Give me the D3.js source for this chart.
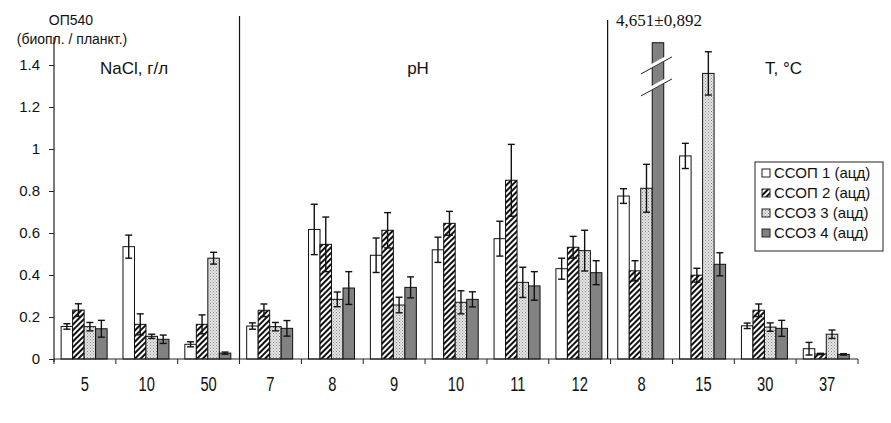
<!DOCTYPE html>
<html><head><meta charset="utf-8">
<script src="https://cdn.jsdelivr.net/npm/d3@7/dist/d3.min.js"></script>
<style>
body{margin:0;background:#fff;}
text{font-family:Arial,"Liberation Sans",sans-serif;fill:#111;}
</style></head>
<body>
<svg id="chart" width="891" height="423"></svg>
<script>
const categories = ["5","10","50","7","8","9","10","11","12","8","15","30","37"];
const seriesNames = ["ССОП 1 (ацд)","ССОП 2 (ацд)","ССОЗ 3 (ацд)","ССОЗ 4 (ацд)"];
const s1 = [0.155,0.535,0.07,0.157,0.617,0.494,0.52,0.573,0.43,0.776,0.967,0.158,0.049];
const e1 = [0.013,0.055,0.012,0.015,0.12,0.082,0.06,0.083,0.05,0.035,0.06,0.013,0.03];
const s2 = [0.233,0.165,0.165,0.232,0.546,0.613,0.646,0.851,0.532,0.42,0.399,0.232,0.024];
const e2 = [0.03,0.05,0.045,0.03,0.13,0.084,0.057,0.171,0.052,0.048,0.033,0.03,0.003];
const s3 = [0.154,0.108,0.48,0.154,0.284,0.257,0.27,0.365,0.516,0.813,1.36,0.152,0.118];
const e3 = [0.02,0.01,0.028,0.02,0.035,0.037,0.055,0.072,0.097,0.114,0.103,0.02,0.02];
const s4 = [0.144,0.094,0.028,0.146,0.338,0.341,0.284,0.348,0.411,4.651,0.451,0.146,0.022];
const e4 = [0.04,0.02,0.005,0.037,0.078,0.05,0.036,0.068,0.057,0.892,0.055,0.038,0.003];
const yTicks = [0,0.2,0.4,0.6,0.8,1,1.2,1.4];
const sections = [{label:"NaCl, г/л", start:0},{label:"pH", start:3},{label:"T, °C", start:9}];
const brokenLabel = "4,651±0,892";
const displayCap = 1.506;

const values = [s1,s2,s3,s4], errors = [e1,e2,e3,e4];
const svg = d3.select("#chart");
const defs = svg.append("defs");
const ph = defs.append("pattern").attr("id","hatch").attr("patternUnits","userSpaceOnUse")
  .attr("width",4).attr("height",4).attr("patternTransform","rotate(45)");
ph.append("rect").attr("width",4).attr("height",4).attr("fill","#fff");
ph.append("rect").attr("width",2).attr("height",4).attr("fill","#111");
const pd = defs.append("pattern").attr("id","dots").attr("patternUnits","userSpaceOnUse")
  .attr("width",3).attr("height",3);
pd.append("rect").attr("width",3).attr("height",3).attr("fill","#e6e6e6");
pd.append("rect").attr("x",0).attr("y",0).attr("width",1).attr("height",1).attr("fill","#888");
pd.append("rect").attr("x",1.5).attr("y",1.5).attr("width",1).attr("height",1).attr("fill","#999");
const fills = ["#fff","url(#hatch)","url(#dots)","#828282"];

const x0 = 54, x1 = 858, yBase = 359;
const x = d3.scaleBand().domain(d3.range(categories.length)).range([x0,x1]).paddingInner(0).paddingOuter(0);
const xs = d3.scaleBand().domain(d3.range(4)).range([0,x.bandwidth()]).paddingInner(0).paddingOuter(0.69).align(0.45);
const y = d3.scaleLinear().domain([0,1.4]).range([yBase,65]);

const g = svg.append("g");
categories.forEach((c,i)=>{
  for(let s=0;s<4;s++){
    const v = Math.min(values[s][i], displayCap);
    const bx = x(i)+xs(s);
    g.append("rect").attr("x",bx).attr("y",y(v)).attr("width",xs.bandwidth()).attr("height",y(0)-y(v))
      .attr("fill",fills[s]).attr("stroke","#111").attr("stroke-width",1);
    if(values[s][i] <= displayCap){
      const cx = bx+xs.bandwidth()/2;
      const top = y(values[s][i]+errors[s][i]), bot = y(values[s][i]-errors[s][i]);
      g.append("line").attr("x1",cx).attr("x2",cx).attr("y1",top).attr("y2",bot).attr("stroke","#111").attr("stroke-width",1.4);
      [top,bot].forEach(yy=>g.append("line").attr("x1",cx-3.5).attr("x2",cx+3.5).attr("y1",yy).attr("y2",yy).attr("stroke","#111").attr("stroke-width",1.4));
    } else {
      const cx = bx+xs.bandwidth()/2;
      [y(1.41), y(1.305)].forEach(yy=>{
        g.append("line").attr("x1",cx-17).attr("x2",cx+14).attr("y1",yy+9).attr("y2",yy-8)
          .attr("stroke","#fff").attr("stroke-width",4);
        g.append("line").attr("x1",cx-17).attr("x2",cx+14).attr("y1",yy+11).attr("y2",yy-6)
          .attr("stroke","#222").attr("stroke-width",1);
      });
      svg.append("text").attr("x",cx+1).attr("y",26).attr("text-anchor","middle")
        .style("font-family","'Liberation Serif','Times New Roman',serif").style("font-size","17px").text(brokenLabel);
    }
  }
});

const xAxis = d3.axisBottom(x).tickSize(0).tickFormat(i=>categories[i]);
const ax = svg.append("g").attr("transform",`translate(0,${yBase})`).call(xAxis);
ax.select(".domain").remove();
ax.selectAll(".tick text").attr("dy",0).attr("y",0).attr("transform","translate(0,32) scale(0.92,1.28)")
  .style("font-size","16px").attr("fill","#1a1a1a");
svg.append("line").attr("x1",x0).attr("x2",x1).attr("y1",yBase).attr("y2",yBase).attr("stroke","#222").attr("stroke-width",1.2);
d3.range(categories.length+1).forEach(i=>{
  const xx = i<categories.length ? x(i) : x1;
  svg.append("line").attr("x1",xx).attr("x2",xx).attr("y1",yBase).attr("y2",yBase+5).attr("stroke","#222");
});
const yAxis = d3.axisLeft(y).tickValues(yTicks).tickSize(5).tickPadding(9).tickFormat(d=>d===0?"0":d3.format("")(d));
const ay = svg.append("g").attr("transform",`translate(${x0},0)`).call(yAxis);
ay.select(".domain").remove();
ay.selectAll("text").style("font-size","15px").attr("fill","#1a1a1a");
ay.selectAll("line").attr("stroke","#222");
svg.append("line").attr("x1",x0).attr("x2",x0).attr("y1",yBase+3).attr("y2",37).attr("stroke","#222").attr("stroke-width",1.2);

svg.append("line").attr("x1",x(3)).attr("x2",x(3)).attr("y1",yBase).attr("y2",16).attr("stroke","#111").attr("stroke-width",1.2);
svg.append("line").attr("x1",x(9)-3).attr("x2",x(9)-3).attr("y1",yBase).attr("y2",20).attr("stroke","#111").attr("stroke-width",1.2);

svg.append("text").attr("x",100).attr("y",74).style("font-size","17px").text(sections[0].label);
svg.append("text").attr("x",418).attr("y",74).attr("text-anchor","middle").style("font-size","17px").text(sections[1].label);
svg.append("text").attr("x",765).attr("y",74).style("font-size","17px").text(sections[2].label);

svg.append("text").attr("x",71).attr("y",25).attr("text-anchor","middle").style("font-size","14px").text("ОП540");
svg.append("text").attr("x",72).attr("y",44).attr("text-anchor","middle").style("font-size","14px").text("(биопл. / планкт.)");

const lg = svg.append("g");
lg.append("rect").attr("x",755).attr("y",162).attr("width",128).attr("height",89).attr("fill","#fff").attr("stroke","#222");
seriesNames.forEach((n,s)=>{
  const yy = 173 + s*20;
  lg.append("rect").attr("x",762).attr("y",yy-4).attr("width",8).attr("height",8).attr("fill",fills[s]).attr("stroke","#222");
  lg.append("text").attr("x",774).attr("y",yy+5).style("font-size","15px").text(n);
});
</script>
</body></html>
